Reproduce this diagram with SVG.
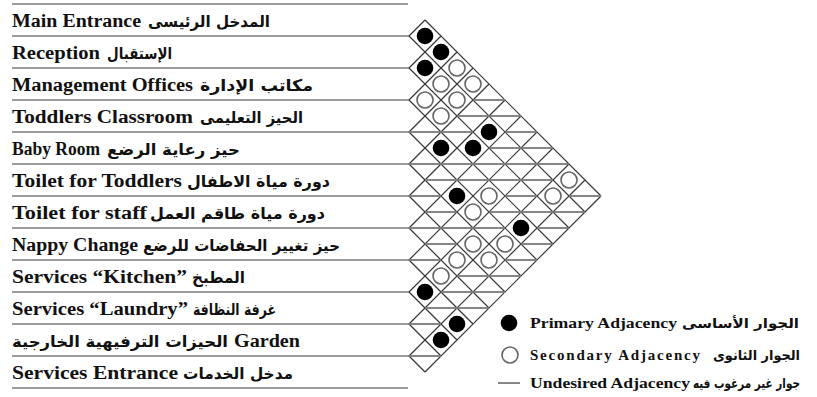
<svg xmlns="http://www.w3.org/2000/svg" width="817" height="397" viewBox="0 0 817 397">
<defs>
<style>
.en{font-family:"Liberation Serif","Times New Roman",serif;font-weight:bold;font-size:18px;fill:#111}
.ar{font-family:"DejaVu Sans",sans-serif;font-weight:bold;font-size:16px;fill:#111}
.len{font-family:"Liberation Serif","Times New Roman",serif;font-weight:bold;font-size:15px;fill:#111}
.lar{font-family:"DejaVu Sans",sans-serif;font-weight:bold;font-size:13.5px;fill:#111}
.rl{stroke:#7a7a7a;stroke-width:1.5;fill:none}
.dg{stroke:#3a3a3a;stroke-width:1.2;fill:none}
.ud{stroke:#7a7a7a;stroke-width:1.8;fill:none}
.pr{fill:#000}
.sc{fill:#fff;stroke:#666;stroke-width:1.6}
</style>
</defs>
<rect width="817" height="397" fill="#fff"/>
<g id="row-lines">
<line class="rl" x1="12" y1="4" x2="408" y2="4"/>
<line class="rl" x1="12" y1="36" x2="409" y2="36"/>
<line class="rl" x1="12" y1="68" x2="409" y2="68"/>
<line class="rl" x1="12" y1="100" x2="409" y2="100"/>
<line class="rl" x1="12" y1="132" x2="409" y2="132"/>
<line class="rl" x1="12" y1="164" x2="409" y2="164"/>
<line class="rl" x1="12" y1="196" x2="409" y2="196"/>
<line class="rl" x1="12" y1="228" x2="409" y2="228"/>
<line class="rl" x1="12" y1="260" x2="409" y2="260"/>
<line class="rl" x1="12" y1="292" x2="409" y2="292"/>
<line class="rl" x1="12" y1="324" x2="409" y2="324"/>
<line class="rl" x1="12" y1="356" x2="409" y2="356"/>
<line class="rl" x1="12" y1="388" x2="408" y2="388"/>
</g>
<g id="row-main-entrance"><text class="en" x="12" y="27" textLength="129" lengthAdjust="spacingAndGlyphs">Main Entrance</text><text class="ar" x="270" y="27" text-anchor="end" textLength="122" lengthAdjust="spacingAndGlyphs">المدخل الرئيسى</text></g>
<g id="row-reception"><text class="en" x="12" y="59" textLength="88" lengthAdjust="spacingAndGlyphs">Reception</text><text class="ar" x="172" y="59" text-anchor="end" textLength="65" lengthAdjust="spacingAndGlyphs">الإستقبال</text></g>
<g id="row-management"><text class="en" x="12" y="91" textLength="181" lengthAdjust="spacingAndGlyphs">Management Offices</text><text class="ar" x="313" y="91" text-anchor="end" textLength="113" lengthAdjust="spacingAndGlyphs">مكاتب الإدارة</text></g>
<g id="row-toddlers-classroom"><text class="en" x="12" y="123" textLength="181" lengthAdjust="spacingAndGlyphs">Toddlers Classroom</text><text class="ar" x="303" y="123" text-anchor="end" textLength="103" lengthAdjust="spacingAndGlyphs">الحيز التعليمى</text></g>
<g id="row-baby-room"><text class="en" x="12" y="155" textLength="88" lengthAdjust="spacingAndGlyphs">Baby Room</text><text class="ar" x="240" y="155" text-anchor="end" textLength="133" lengthAdjust="spacingAndGlyphs">حيز رعاية الرضع</text></g>
<g id="row-toilet-toddlers"><text class="en" x="12" y="187" textLength="170" lengthAdjust="spacingAndGlyphs">Toilet for Toddlers</text><text class="ar" x="330" y="187" text-anchor="end" textLength="143" lengthAdjust="spacingAndGlyphs">دورة مياة الاطفال</text></g>
<g id="row-toilet-staff"><text class="en" x="12" y="219" textLength="135" lengthAdjust="spacingAndGlyphs">Toilet for staff</text><text class="ar" x="325" y="219" text-anchor="end" textLength="175" lengthAdjust="spacingAndGlyphs">دورة مياة طاقم العمل</text></g>
<g id="row-nappy-change"><text class="en" x="12" y="251" textLength="126" lengthAdjust="spacingAndGlyphs">Nappy Change</text><text class="ar" x="340" y="251" text-anchor="end" textLength="197" lengthAdjust="spacingAndGlyphs">حيز تغيير الحفاضات للرضع</text></g>
<g id="row-kitchen"><text class="en" x="12" y="283" textLength="175" lengthAdjust="spacingAndGlyphs">Services “Kitchen”</text><text class="ar" x="245" y="283" text-anchor="end" textLength="53" lengthAdjust="spacingAndGlyphs">المطبخ</text></g>
<g id="row-laundry"><text class="en" x="12" y="315" textLength="176" lengthAdjust="spacingAndGlyphs">Services “Laundry”</text><text class="ar" x="276" y="315" text-anchor="end" textLength="83" lengthAdjust="spacingAndGlyphs">غرفة النظافة</text></g>
<g id="row-garden"><text class="ar" x="228" y="347" text-anchor="end" textLength="216" lengthAdjust="spacingAndGlyphs">الحيزات الترفيهية الخارجية</text><text class="en" x="234" y="347" textLength="66" lengthAdjust="spacingAndGlyphs">Garden</text></g>
<g id="row-services-entrance"><text class="en" x="12" y="379" textLength="166" lengthAdjust="spacingAndGlyphs">Services Entrance</text><text class="ar" x="293" y="379" text-anchor="end" textLength="110" lengthAdjust="spacingAndGlyphs">مدخل الخدمات</text></g>
<g id="connectors">
<g id="grid">
<line class="dg" x1="425" y1="20" x2="601" y2="196"/>
<line class="dg" x1="409" y1="36" x2="585" y2="212"/>
<line class="dg" x1="409" y1="68" x2="569" y2="228"/>
<line class="dg" x1="409" y1="100" x2="553" y2="244"/>
<line class="dg" x1="409" y1="132" x2="537" y2="260"/>
<line class="dg" x1="409" y1="164" x2="521" y2="276"/>
<line class="dg" x1="409" y1="196" x2="505" y2="292"/>
<line class="dg" x1="409" y1="228" x2="489" y2="308"/>
<line class="dg" x1="409" y1="260" x2="473" y2="324"/>
<line class="dg" x1="409" y1="292" x2="457" y2="340"/>
<line class="dg" x1="409" y1="324" x2="441" y2="356"/>
<line class="dg" x1="409" y1="356" x2="425" y2="372"/>
<line class="dg" x1="425" y1="372" x2="601" y2="196"/>
<line class="dg" x1="409" y1="356" x2="585" y2="180"/>
<line class="dg" x1="409" y1="324" x2="569" y2="164"/>
<line class="dg" x1="409" y1="292" x2="553" y2="148"/>
<line class="dg" x1="409" y1="260" x2="537" y2="132"/>
<line class="dg" x1="409" y1="228" x2="521" y2="116"/>
<line class="dg" x1="409" y1="196" x2="505" y2="100"/>
<line class="dg" x1="409" y1="164" x2="489" y2="84"/>
<line class="dg" x1="409" y1="132" x2="473" y2="68"/>
<line class="dg" x1="409" y1="100" x2="457" y2="52"/>
<line class="dg" x1="409" y1="68" x2="441" y2="36"/>
<line class="dg" x1="409" y1="36" x2="425" y2="20"/>
</g>
<g id="undesired">
<line class="ud" x1="473" y1="100" x2="505" y2="100"/>
<line class="ud" x1="489" y1="116" x2="521" y2="116"/>
<line class="ud" x1="505" y1="132" x2="537" y2="132"/>
<line class="ud" x1="521" y1="148" x2="553" y2="148"/>
<line class="ud" x1="537" y1="164" x2="569" y2="164"/>
<line class="ud" x1="569" y1="196" x2="601" y2="196"/>
<line class="ud" x1="457" y1="116" x2="489" y2="116"/>
<line class="ud" x1="489" y1="148" x2="521" y2="148"/>
<line class="ud" x1="505" y1="164" x2="537" y2="164"/>
<line class="ud" x1="521" y1="180" x2="553" y2="180"/>
<line class="ud" x1="553" y1="212" x2="585" y2="212"/>
<line class="ud" x1="441" y1="132" x2="473" y2="132"/>
<line class="ud" x1="473" y1="164" x2="505" y2="164"/>
<line class="ud" x1="489" y1="180" x2="521" y2="180"/>
<line class="ud" x1="505" y1="196" x2="537" y2="196"/>
<line class="ud" x1="521" y1="212" x2="553" y2="212"/>
<line class="ud" x1="537" y1="228" x2="569" y2="228"/>
<line class="ud" x1="409" y1="132" x2="441" y2="132"/>
<line class="ud" x1="441" y1="164" x2="473" y2="164"/>
<line class="ud" x1="457" y1="180" x2="489" y2="180"/>
<line class="ud" x1="489" y1="212" x2="521" y2="212"/>
<line class="ud" x1="521" y1="244" x2="553" y2="244"/>
<line class="ud" x1="409" y1="164" x2="441" y2="164"/>
<line class="ud" x1="425" y1="180" x2="457" y2="180"/>
<line class="ud" x1="473" y1="228" x2="505" y2="228"/>
<line class="ud" x1="505" y1="260" x2="537" y2="260"/>
<line class="ud" x1="409" y1="196" x2="441" y2="196"/>
<line class="ud" x1="425" y1="212" x2="457" y2="212"/>
<line class="ud" x1="441" y1="228" x2="473" y2="228"/>
<line class="ud" x1="489" y1="276" x2="521" y2="276"/>
<line class="ud" x1="409" y1="228" x2="441" y2="228"/>
<line class="ud" x1="425" y1="244" x2="457" y2="244"/>
<line class="ud" x1="457" y1="276" x2="489" y2="276"/>
<line class="ud" x1="473" y1="292" x2="505" y2="292"/>
<line class="ud" x1="409" y1="260" x2="441" y2="260"/>
<line class="ud" x1="441" y1="292" x2="473" y2="292"/>
<line class="ud" x1="457" y1="308" x2="489" y2="308"/>
<line class="ud" x1="425" y1="308" x2="457" y2="308"/>
<line class="ud" x1="409" y1="324" x2="441" y2="324"/>
<line class="ud" x1="409" y1="356" x2="441" y2="356"/>
</g>
</g>
<g id="primary">
<circle class="pr" cx="425" cy="36" r="8.3"/>
<circle class="pr" cx="441" cy="52" r="8.3"/>
<circle class="pr" cx="425" cy="68" r="8.3"/>
<circle class="pr" cx="489" cy="132" r="8.3"/>
<circle class="pr" cx="473" cy="148" r="8.3"/>
<circle class="pr" cx="441" cy="148" r="8.3"/>
<circle class="pr" cx="457" cy="196" r="8.3"/>
<circle class="pr" cx="521" cy="228" r="8.3"/>
<circle class="pr" cx="425" cy="292" r="8.3"/>
<circle class="pr" cx="457" cy="324" r="8.3"/>
<circle class="pr" cx="441" cy="340" r="8.3"/>
</g>
<g id="secondary">
<circle class="sc" cx="457" cy="68" r="8"/>
<circle class="sc" cx="473" cy="84" r="8"/>
<circle class="sc" cx="441" cy="84" r="8"/>
<circle class="sc" cx="457" cy="100" r="8"/>
<circle class="sc" cx="425" cy="100" r="8"/>
<circle class="sc" cx="441" cy="116" r="8"/>
<circle class="sc" cx="569" cy="180" r="8"/>
<circle class="sc" cx="553" cy="196" r="8"/>
<circle class="sc" cx="489" cy="196" r="8"/>
<circle class="sc" cx="473" cy="212" r="8"/>
<circle class="sc" cx="505" cy="244" r="8"/>
<circle class="sc" cx="473" cy="244" r="8"/>
<circle class="sc" cx="489" cy="260" r="8"/>
<circle class="sc" cx="457" cy="260" r="8"/>
<circle class="sc" cx="441" cy="276" r="8"/>
</g>
<g id="legend">
<g id="legend-primary"><circle class="pr" cx="509" cy="323" r="8.3"/><text class="len" x="530" y="328" textLength="147" lengthAdjust="spacingAndGlyphs">Primary Adjacency</text><text class="lar" x="799" y="328" text-anchor="end" textLength="117" lengthAdjust="spacingAndGlyphs">الجوار الأساسى</text></g>
<g id="legend-secondary"><circle class="sc" cx="510" cy="355" r="8"/><text class="len" x="530" y="360" textLength="170" lengthAdjust="spacing">Secondary  Adjacency</text><text class="lar" x="800" y="360" text-anchor="end" textLength="87" lengthAdjust="spacingAndGlyphs">الجوار الثانوى</text></g>
<g id="legend-undesired"><line class="ud" x1="498" y1="383" x2="520" y2="383"/><text class="len" x="530" y="388" textLength="160" lengthAdjust="spacingAndGlyphs">Undesired Adjacency</text><text class="lar" x="800" y="388" text-anchor="end" textLength="107" lengthAdjust="spacingAndGlyphs">جوار غير مرغوب فيه</text></g>
</g>
</svg>
